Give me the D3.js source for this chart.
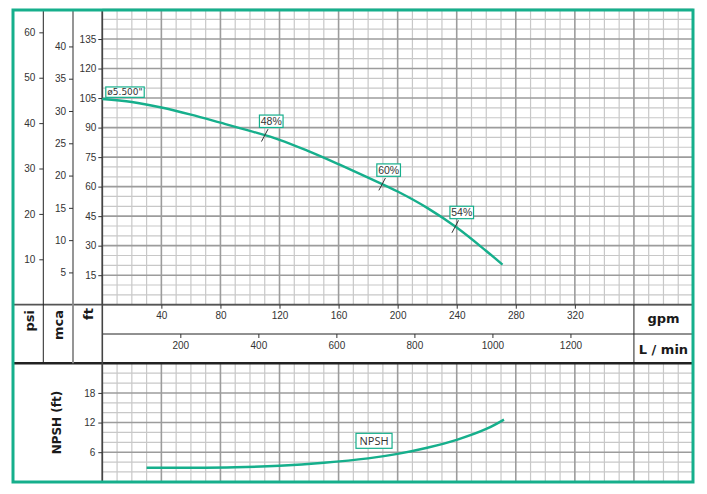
<!DOCTYPE html>
<html><head><meta charset="utf-8">
<script src="https://cdn.jsdelivr.net/npm/d3@7"></script>
<style>
html,body{margin:0;padding:0;background:#fff;}
svg{display:block;}
</style></head><body>
<svg id="chart" width="707" height="494"></svg>
<script>
// ---- data ----
const gpmTicks = [40, 80, 120, 160, 200, 240, 280, 320];
const lpmTicks = [200, 400, 600, 800, 1000, 1200];
const psiTicks = [10, 20, 30, 40, 50, 60];
const mcaTicks = [5, 10, 15, 20, 25, 30, 35, 40];
const ftTicks = [15, 30, 45, 60, 75, 90, 105, 120, 135];
const npshTicks = [6, 12, 18];

const headGpm = [0, 20, 40, 60, 80, 100, 120, 140, 160, 180, 200, 220, 240, 260, 271];
const headFt  = [104.5, 103, 100.2, 96.6, 92.5, 88.3, 83.8, 77.9, 71.4, 64.6, 57.5, 49.2, 39.2, 27.3, 20.4];

const npshGpm = [30, 60, 90, 120, 150, 180, 200, 220, 240, 260, 272];
const npshFt  = [2.85, 2.85, 2.95, 3.25, 3.85, 4.75, 5.65, 6.9, 8.5, 10.7, 12.6];

const effLabels = ["48%", "60%", "54%"];
const effGpm = [110, 189.5, 239];
const impellerLabel = "ø5.500\"";
const npshLabel = "NPSH";
const npshLabelAt = [184, 8.3]; // gpm, ft

// ---- layout ----
const green = "#16af8c";
const frameL = 13, frameR = 693, frameT = 10, frameB = 482;
const plotL = 102.3, headB = 304.7, headT = 9.5;
const midLine = 334, bandB = 363.3, npshB = 481.8;
const psiX = 43.3, mcaX = 73;

const svg = d3.select("#chart");

const x = d3.scaleLinear().domain([0, 400]).range([plotL, frameR]);
const xL = d3.scaleLinear().domain([0, 400 * 3.78541]).range([plotL, frameR]);
const yFt = d3.scaleLinear().domain([0, 150]).range([headB, headT]);
const yPsi = d3.scaleLinear().domain([0, 150 / 2.30666]).range([headB, headT]);
const yMca = d3.scaleLinear().domain([0, 150 / 3.28084]).range([headB, headT]);
const yN = d3.scaleLinear().domain([0, 24]).range([npshB, bandB]);

// ---- grid ----
const grid = svg.append("g");
const vVals = d3.range(0, 401, 10);
const hTop = d3.range(0, 151, 5);
const hBot = d3.range(0, 25, 2);
function drawGrid(isMajor, color, w) {
  grid.selectAll(null).data(vVals.filter(v => (v % 40 === 0) === isMajor)).join("line")
    .attr("x1", d => x(d)).attr("x2", d => x(d)).attr("y1", headT).attr("y2", headB)
    .attr("stroke", color).attr("stroke-width", w);
  grid.selectAll(null).data(vVals.filter(v => (v % 40 === 0) === isMajor)).join("line")
    .attr("x1", d => x(d)).attr("x2", d => x(d)).attr("y1", bandB).attr("y2", npshB)
    .attr("stroke", color).attr("stroke-width", w);
  grid.selectAll(null).data(hTop.filter(v => (v % 15 === 0) === isMajor)).join("line")
    .attr("x1", plotL).attr("x2", frameR).attr("y1", d => yFt(d)).attr("y2", d => yFt(d))
    .attr("stroke", color).attr("stroke-width", w);
  grid.selectAll(null).data(hBot.filter(v => (v % 6 === 0) === isMajor)).join("line")
    .attr("x1", plotL).attr("x2", frameR).attr("y1", d => yN(d)).attr("y2", d => yN(d))
    .attr("stroke", color).attr("stroke-width", w);
}
drawGrid(false, "#c8c8c8", 1.2);
drawGrid(true, "#9c9c9c", 1.6);

// ---- structure lines ----
const s = svg.append("g");
function ln(x1, y1, x2, y2, c, w) {
  s.append("line").attr("x1", x1).attr("y1", y1).attr("x2", x2).attr("y2", y2)
    .attr("stroke", c).attr("stroke-width", w);
}
ln(frameL, headB, frameR, headB, "#555", 1.8);
ln(plotL, midLine, frameR, midLine, "#222", 1);
ln(frameL, bandB, frameR, bandB, "#222", 2.6);
ln(x(360), headB, x(360), bandB, "#222", 1);
ln(psiX, frameT, psiX, bandB, "#222", 1);
ln(mcaX, frameT, mcaX, bandB, "#8a8a8a", 1.8);
ln(plotL, frameT, plotL, frameB, "#444", 1.6);

// ---- axes ----
function styleAxis(g, size) {
  g.select(".domain").remove();
  g.selectAll(".tick line").attr("stroke", "#333").attr("stroke-width", 1);
  g.selectAll(".tick text").attr("fill", "#333")
    .style("font-family", "'Liberation Sans', Arial, sans-serif").style("font-size", size + "px");
}
const fmt = d3.format("d");
svg.append("g").attr("transform", `translate(${psiX},0)`)
  .call(d3.axisLeft(yPsi).tickValues(psiTicks).tickFormat(fmt).tickSize(4).tickPadding(4)).call(g => styleAxis(g, 10));
svg.append("g").attr("transform", `translate(${mcaX},0)`)
  .call(d3.axisLeft(yMca).tickValues(mcaTicks).tickFormat(fmt).tickSize(4).tickPadding(3)).call(g => styleAxis(g, 10));
svg.append("g").attr("transform", `translate(${plotL},0)`)
  .call(d3.axisLeft(yFt).tickValues(ftTicks).tickFormat(fmt).tickSize(4).tickPadding(2)).call(g => styleAxis(g, 10));
svg.append("g").attr("transform", `translate(${plotL},0)`)
  .call(d3.axisLeft(yN).tickValues(npshTicks).tickFormat(fmt).tickSize(4).tickPadding(3)).call(g => styleAxis(g, 10));
svg.append("g").attr("transform", `translate(0,${headB})`)
  .call(d3.axisBottom(x).tickValues(gpmTicks).tickFormat(fmt).tickSize(4).tickPadding(3)).call(g => styleAxis(g, 10));
svg.append("g").attr("transform", `translate(0,${midLine})`)
  .call(d3.axisBottom(xL).tickValues(lpmTicks).tickFormat(fmt).tickSize(4).tickPadding(4)).call(g => styleAxis(g, 10));

// ---- unit labels ----
const bold = "'DejaVu Sans', sans-serif";
function rotLabel(txt, cx, yEnd, size) {
  svg.append("text").attr("transform", `translate(${cx},${yEnd}) rotate(-90)`)
    .attr("text-anchor", "end").attr("dominant-baseline", "central")
    .style("font-family", bold).style("font-weight", "bold").style("font-size", size + "px")
    .attr("fill", "#1a1a1a").text(txt);
}
rotLabel("psi", 29.5, 310, 13);
rotLabel("mca", 58, 310, 13);
rotLabel("ft", 88, 308, 13);
svg.append("text").attr("transform", `translate(57,${(bandB + npshB) / 2}) rotate(-90)`)
  .attr("text-anchor", "middle").attr("dominant-baseline", "central")
  .style("font-family", bold).style("font-weight", "bold").style("font-size", "12px")
  .attr("fill", "#1a1a1a").text("NPSH (ft)");
svg.append("text").attr("x", (x(360) + frameR) / 2).attr("y", (headB + midLine) / 2 - 1)
  .attr("text-anchor", "middle").attr("dominant-baseline", "central")
  .style("font-family", bold).style("font-weight", "bold").style("font-size", "13px")
  .attr("fill", "#1a1a1a").text("gpm");
svg.append("text").attr("x", (x(360) + frameR) / 2).attr("y", (midLine + bandB) / 2 + 1)
  .attr("text-anchor", "middle").attr("dominant-baseline", "central")
  .style("font-family", bold).style("font-weight", "bold").style("font-size", "13px")
  .attr("fill", "#1a1a1a").text("L / min");

// ---- curves ----
const headPts = headGpm.map((g, i) => [g, headFt[i]]);
const npshPts = npshGpm.map((g, i) => [g, npshFt[i]]);
svg.append("path").datum(headPts)
  .attr("d", d3.line().x(d => x(d[0])).y(d => yFt(d[1])).curve(d3.curveCatmullRom.alpha(0.5)))
  .attr("fill", "none").attr("stroke", green).attr("stroke-width", 2.4);
svg.append("path").datum(npshPts)
  .attr("d", d3.line().x(d => x(d[0])).y(d => yN(d[1])).curve(d3.curveCatmullRom.alpha(0.5)))
  .attr("fill", "none").attr("stroke", green).attr("stroke-width", 2.4);

// ---- labels ----
function boxLabel(txt, cx, cy, font, size, padX, h) {
  const g = svg.append("g");
  const rect = g.append("rect");
  const t = g.append("text").attr("x", cx).attr("y", cy)
    .attr("text-anchor", "middle").attr("dominant-baseline", "central")
    .style("font-family", font).style("font-size", size + "px").attr("fill", "#333").text(txt);
  const w = t.node().getComputedTextLength() + 2 * padX;
  rect.attr("x", cx - w / 2).attr("y", cy - h / 2).attr("width", w).attr("height", h)
    .attr("fill", "#fff").attr("stroke", green).attr("stroke-width", 1.2);
  return w;
}
const headAt = d3.scaleLinear().domain(headGpm).range(headFt);
effLabels.forEach((lab, i) => {
  const cx = x(effGpm[i]), cy = yFt(headAt(effGpm[i]));
  svg.append("line").attr("x1", cx + 3.3).attr("y1", cy - 6.2).attr("x2", cx - 3.3).attr("y2", cy + 6.2)
    .attr("stroke", "#333").attr("stroke-width", 1);
  boxLabel(lab, cx + 6.5, cy - 6.2 - 1.7 - 6.2, "'Liberation Sans', Arial, sans-serif", 10.5, 1.3, 12.4);
});
// impeller diameter label
(function () {
  const g = svg.append("g");
  const t = g.append("text").style("font-family", "'DejaVu Sans', sans-serif").style("font-size", "9px")
    .attr("fill", "#333").attr("dominant-baseline", "central").text(impellerLabel);
  const w = t.node().getComputedTextLength() + 3;
  const x0 = x(0) + 3.5, yb = yFt(headFt[0]) - 1.7, h = 10.4;
  g.insert("rect", "text").attr("x", x0).attr("y", yb - h).attr("width", w).attr("height", h)
    .attr("fill", "#fff").attr("stroke", green).attr("stroke-width", 1.2);
  t.attr("x", x0 + 1.5).attr("y", yb - h / 2);
})();
boxLabel(npshLabel, x(npshLabelAt[0]), yN(npshLabelAt[1]), "'Open Sans', sans-serif", 11, 3.5, 15);

// ---- frame ----
svg.append("rect").attr("x", frameL).attr("y", frameT).attr("width", frameR - frameL).attr("height", frameB - frameT)
  .attr("fill", "none").attr("stroke", green).attr("stroke-width", 3);
</script>
</body></html>
